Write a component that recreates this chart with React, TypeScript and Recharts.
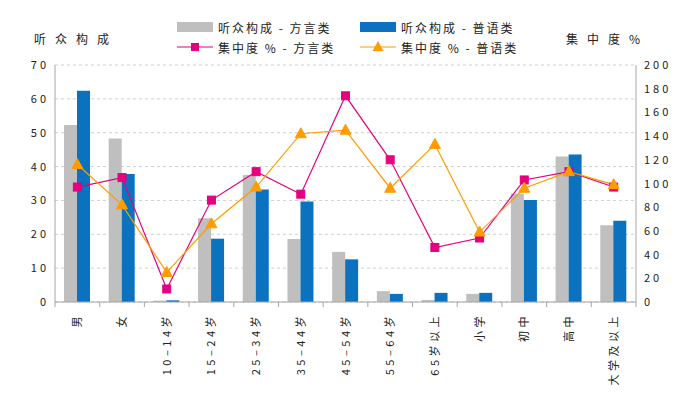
import React from 'react';
import {
  ComposedChart,
  Bar,
  Line,
  XAxis,
  YAxis,
  CartesianGrid,
} from 'recharts';

const categories = ['男', '女', '10–14岁', '15–24岁', '25–34岁', '35–44岁', '45–54岁', '55–64岁', '65岁以上', '小学', '初中', '高中', '大学及以上'];

// 听众构成 (%), left axis
const dialectShare = [52.3, 48.3, 0.4, 24.7, 37.5, 18.6, 14.8, 3.2, 0.6, 2.4, 32.0, 43.0, 22.7];
const mandarinShare = [62.4, 37.8, 0.5, 18.7, 33.2, 29.7, 12.6, 2.4, 2.7, 2.7, 30.1, 43.6, 24.0];

// 集中度 %, right axis
const dialectConc = [97, 105, 11, 86, 110, 91, 174, 120, 46, 54, 103, 110, 97];
const mandarinConc = [116, 82, 25, 66, 97, 142, 145, 96, 133, 59, 96, 110, 99];

const leftTicks = [0, 10, 20, 30, 40, 50, 60, 70];
const rightTicks = [0, 20, 40, 60, 80, 100, 120, 140, 160, 180, 200];

const GRAY = '#bfbfbf';
const BLUE = '#0a72be';
const PINK = '#e4007f';
const ORANGE = '#ff9c00';
const AXIS = '#a6a6a6';
const FONT = '"Noto Sans CJK SC", "Noto Sans", sans-serif';

const data = categories.map((name, i) => ({
  name,
  dialectShare: dialectShare[i],
  mandarinShare: mandarinShare[i],
  dialectConc: dialectConc[i],
  mandarinConc: mandarinConc[i],
}));

const W = 700;
const H = 396;
const M = { top: 65, right: 0, bottom: 0, left: 0 };
const LEFT_W = 55;
const RIGHT_W = 64;
const halfBand = (W - LEFT_W - RIGHT_W) / categories.length / 2;

const XTick = (props: any) => {
  const { x, y, payload, index } = props;
  return (
    <g>
      <line x1={x + halfBand} y1={y} x2={x + halfBand} y2={y + 5} stroke={AXIS} />
      {index === 0 && <line x1={x - halfBand} y1={y} x2={x - halfBand} y2={y + 5} stroke={AXIS} />}
      <text
        transform={`translate(${x + 4},${y + 11}) rotate(-90)`}
        textAnchor="end"
        fontSize={11}
        letterSpacing={3.5}
        fill="#222"
        fontFamily={FONT}
      >
        {payload.value}
      </text>
    </g>
  );
};

const LeftTick = ({ x, y, payload }: any) => (
  <text x={x - 6} y={y + 4} textAnchor="end" fontSize={11} letterSpacing={3} fill="#222" fontFamily={FONT}>
    {payload.value}
  </text>
);

const RightTick = ({ x, y, payload }: any) => (
  <text x={x + 8} y={y + 4} textAnchor="start" fontSize={11} letterSpacing={3} fill="#222" fontFamily={FONT}>
    {payload.value}
  </text>
);

const SquareDot = ({ cx, cy }: any) => {
  if (cx == null || cy == null) return null;
  return <rect x={cx - 4} y={cy - 4} width={8} height={8} fill={PINK} stroke={PINK} />;
};

const TriangleDot = ({ cx, cy }: any) => {
  if (cx == null || cy == null) return null;
  return <polygon points={`${cx},${cy - 6} ${cx + 5.5},${cy + 4} ${cx - 5.5},${cy + 4}`} fill={ORANGE} stroke={ORANGE} />;
};

const legendText: React.CSSProperties = { fontSize: 12, color: '#222', letterSpacing: 2, whiteSpace: 'pre' };

const LegendItem = ({ kind, color, label }: { kind: 'bar' | 'square' | 'tri'; color: string; label: string }) => (
  <div style={{ display: 'flex', alignItems: 'center', height: 20 }}>
    <svg width={36} height={14} style={{ marginRight: 5 }}>
      {kind === 'bar' && <rect x={0} y={2} width={36} height={10} fill={color} />}
      {kind !== 'bar' && <line x1={0} y1={7} x2={36} y2={7} stroke={color} strokeWidth={1.2} />}
      {kind === 'square' && <rect x={14} y={3} width={8} height={8} fill={color} />}
      {kind === 'tri' && <polygon points="18,1 23.5,11 12.5,11" fill={color} />}
    </svg>
    <span style={legendText}>{label}</span>
  </div>
);

export default function App() {
  return (
    <div style={{ position: 'absolute', left: 0, top: 0, width: W, height: H, background: '#fff', fontFamily: FONT }}>
      <div style={{ position: 'absolute', left: 34, top: 30, fontSize: 12, letterSpacing: 9, color: '#222' }}>听众构成</div>
      <div style={{ position: 'absolute', left: 566, top: 30, fontSize: 12, letterSpacing: 9, color: '#222' }}>集中度%</div>
      <div style={{ position: 'absolute', left: 177, top: 17, display: 'grid', gridTemplateColumns: '183px 183px', rowGap: 0 }}>
        <LegendItem kind="bar" color={GRAY} label="听众构成 - 方言类" />
        <LegendItem kind="bar" color={BLUE} label="听众构成 - 普语类" />
        <LegendItem kind="square" color={PINK} label="集中度 % - 方言类" />
        <LegendItem kind="tri" color={ORANGE} label="集中度 % - 普语类" />
      </div>
      <ComposedChart width={W} height={H} data={data} margin={M} barGap={0} barSize={13}>
        <CartesianGrid vertical={false} stroke="#cfcfcf" strokeDasharray="3 3" yAxisId="left" />
        <XAxis
          dataKey="name"
          height={94}
          interval={0}
          tickLine={false}
          tickSize={0}
          tickMargin={0}
          axisLine={{ stroke: AXIS }}
          tick={<XTick />}
        />
        <YAxis
          yAxisId="left"
          width={LEFT_W}
          domain={[0, 70]}
          ticks={leftTicks}
          tickLine={false}
          tickSize={0}
          tickMargin={0}
          axisLine={{ stroke: AXIS }}
          tick={<LeftTick />}
        />
        <YAxis
          yAxisId="right"
          orientation="right"
          width={RIGHT_W}
          domain={[0, 200]}
          ticks={rightTicks}
          tickLine={false}
          tickSize={0}
          tickMargin={0}
          axisLine={{ stroke: AXIS }}
          tick={<RightTick />}
        />
        <Bar yAxisId="left" dataKey="dialectShare" fill={GRAY} isAnimationActive={false} />
        <Bar yAxisId="left" dataKey="mandarinShare" fill={BLUE} isAnimationActive={false} />
        <Line
          yAxisId="right"
          dataKey="dialectConc"
          stroke={PINK}
          strokeWidth={1.2}
          dot={<SquareDot />}
          activeDot={false}
          isAnimationActive={false}
        />
        <Line
          yAxisId="right"
          dataKey="mandarinConc"
          stroke={ORANGE}
          strokeWidth={1.2}
          dot={<TriangleDot />}
          activeDot={false}
          isAnimationActive={false}
        />
      </ComposedChart>
    </div>
  );
}
